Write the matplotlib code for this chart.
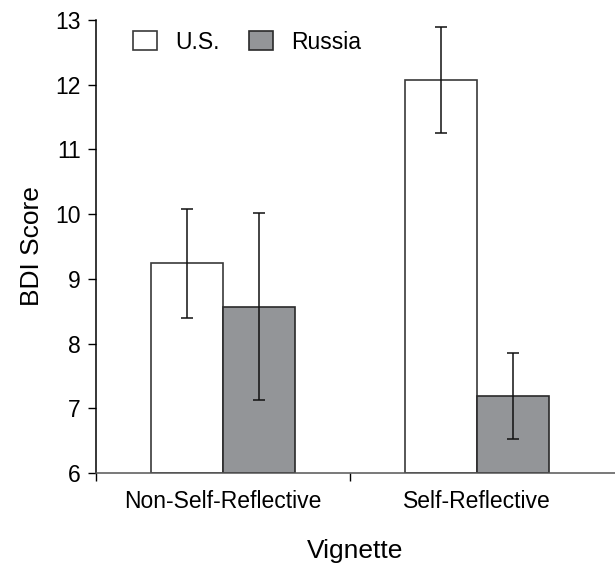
import numpy as np
import matplotlib
matplotlib.use("Agg")
import matplotlib.pyplot as plt

plt.rcParams['font.family'] = ['Liberation Sans', 'DejaVu Sans']

categories = ["Non-Self-Reflective", "Self-Reflective"]
groups = ["U.S.", "Russia"]
us_mean = [9.24, 12.07]
us_err = [0.84, 0.82]
russia_mean = [8.57, 7.19]
russia_err = [1.44, 0.66]

fig = plt.figure(figsize=(6.15, 5.64), dpi=100)
ax = fig.add_axes([0.156, 0.161, 0.844, 0.804])

x = np.arange(len(categories))
w = 0.285
ax.bar(x - w / 2, np.array(us_mean) - 6, w, bottom=6, color="white",
       edgecolor="#3a3a3a", linewidth=1.2, label=groups[0])
ax.bar(x + w / 2, np.array(russia_mean) - 6, w, bottom=6, color="#939598",
       edgecolor="#2a2a2a", linewidth=1.2, label=groups[1])
ax.errorbar(x - w / 2, us_mean, yerr=us_err, fmt="none", ecolor="#111111",
            elinewidth=1.1, capsize=4, capthick=1.1)
ax.errorbar(x + w / 2, russia_mean, yerr=russia_err, fmt="none", ecolor="#111111",
            elinewidth=1.1, capsize=4, capthick=1.1)

ax.set_ylim(6, 13)
ax.set_xlim(-0.5, 1.543)
ax.set_yticks(range(6, 14))
ax.set_xticks(x)
ax.set_xticklabels(categories)
ax.set_xticks([-0.5, 0.5], minor=True)
ax.tick_params(axis="x", which="major", length=0, pad=12, labelsize=16.5)
ax.tick_params(axis="x", which="minor", length=6, width=1, direction="out")
ax.tick_params(axis="y", length=6, width=1, labelsize=16.5, pad=5)

for s in ["top", "right"]:
    ax.spines[s].set_visible(False)
ax.spines["left"].set_linewidth(1.1)
ax.spines["bottom"].set_linewidth(1.1)
ax.spines["bottom"].set_color("#555555")

ax.set_ylabel("BDI Score", fontsize=19, labelpad=8)
ax.set_xlabel("Vignette", fontsize=19, labelpad=19)

ax.legend(loc="upper left", ncol=2, frameon=False, fontsize=16.5,
          bbox_to_anchor=(0.071, 0.976), borderpad=0, borderaxespad=0,
          handlelength=1.05, handleheight=0.87,
          columnspacing=1.27, handletextpad=0.79)

fig.savefig("out.png", dpi=100)
